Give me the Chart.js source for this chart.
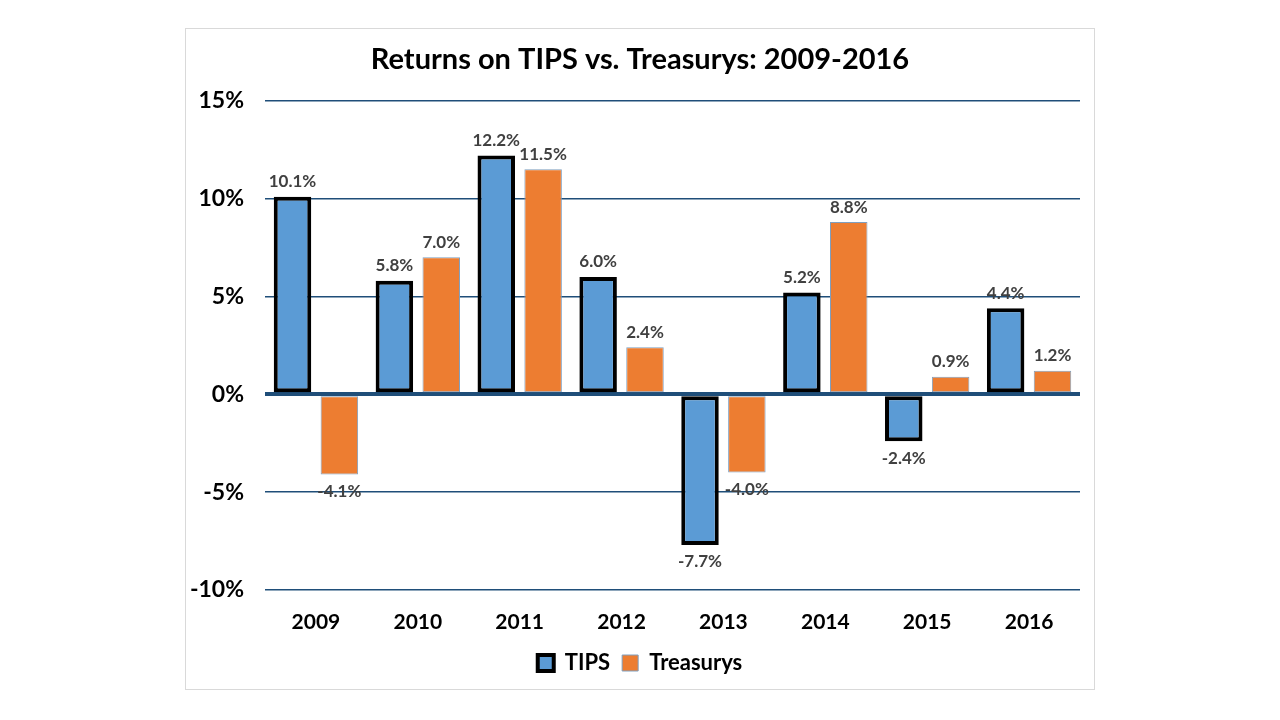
<!DOCTYPE html>
<html>
<head>
<meta charset="utf-8">
<script src="https://cdn.jsdelivr.net/npm/chart.js@4.4.1/dist/chart.umd.min.js"></script>
<style>
  html,body{margin:0;padding:0;background:#fff;}
  #box{position:absolute;left:185px;top:28px;width:910px;height:662px;border:1px solid #d9d9d9;box-sizing:border-box;}
  #wrap{position:absolute;left:170px;top:28px;width:940px;height:662px;}
</style>
</head>
<body>
<div id="box"></div>
<div id="wrap"><canvas id="chart"></canvas></div>
<script>
// Data
const years = ['2009','2010','2011','2012','2013','2014','2015','2016'];
const tipsReturns = [10.1, 5.8, 12.2, 6.0, -7.7, 5.2, -2.4, 4.4];
const treasuryReturns = [-4.1, 7.0, 11.5, 2.4, -4.0, 8.8, 0.9, 1.2];
const yTicks = [-10, -5, 0, 5, 10, 15];

const FONT = 'Lato, "Open Sans", sans-serif';
const GRID = '#1f4e79';

// draws the value labels above / below each bar
const valueLabels = {
  id:'valueLabels',
  afterDatasetsDraw(chart){
    const ctx = chart.ctx;
    ctx.save();
    ctx.font = 'bold 17px ' + FONT;
    ctx.fillStyle = '#404040';
    ctx.textAlign = 'center';
    ctx.textBaseline = 'middle';
    chart.data.datasets.forEach((ds,i)=>{
      chart.getDatasetMeta(i).data.forEach((bar,j)=>{
        const v = ds.data[j];
        const y = v >= 0 ? bar.y - 15 : bar.y + 17;
        ctx.fillText(v.toFixed(1)+'%', bar.x, y);
      });
    });
    ctx.restore();
  }
};

new Chart(document.getElementById('chart'), {
  type:'bar',
  data:{
    labels: years,
    datasets:[
      {label:'TIPS', data:tipsReturns, backgroundColor:'#5b9bd5', borderColor:'#000', borderWidth:4, borderSkipped:false,
       barPercentage:0.8, categoryPercentage:0.92},
      {label:'Treasurys', data:treasuryReturns, backgroundColor:'#ed7d31', borderColor:'#7f9fbf', borderWidth:1, borderSkipped:false,
       barPercentage:0.8, categoryPercentage:0.92}
    ]
  },
  options:{
    responsive:true, maintainAspectRatio:false, animation:false,
    layout:{padding:{left:0,right:0,top:0,bottom:6}},
    plugins:{
      title:{display:true, text:'Returns on TIPS vs. Treasurys: 2009-2016', color:'#000',
        font:{family:FONT, size:29, weight:'bold'}, padding:{top:14, bottom:24}},
      legend:{position:'bottom',
        labels:{color:'#000', font:{family:FONT, size:22, weight:'bold'}, boxWidth:16, boxHeight:16, padding:12}},
      tooltip:{enabled:false}
    },
    scales:{
      x:{
        grid:{display:false, drawTicks:false}, border:{display:false},
        ticks:{color:'#000', font:{family:FONT, size:21, weight:'bold'}, padding:20},
        afterFit(s){ s.height = 50; }
      },
      y:{
        min:-10, max:15,
        afterBuildTicks(s){ s.ticks = yTicks.map(v=>({value:v})); },
        border:{display:false},
        grid:{color:GRID, lineWidth:(c)=> c.tick && c.tick.value===0 ? 4 : 1.5, drawTicks:false},
        ticks:{color:'#000', font:{family:FONT, size:23, weight:'bold'}, padding:21, callback:(v)=> v+'%'},
        afterFit(s){ s.width = 95; }
      },
      // empty right-hand axis, only keeps the plot clear of the right edge
      yRight:{
        position:'right', min:-10, max:15,
        grid:{display:false, drawTicks:false}, border:{display:false},
        ticks:{display:false},
        afterFit(s){ s.width = 30; }
      }
    }
  },
  plugins:[valueLabels]
});
</script>
</body>
</html>
